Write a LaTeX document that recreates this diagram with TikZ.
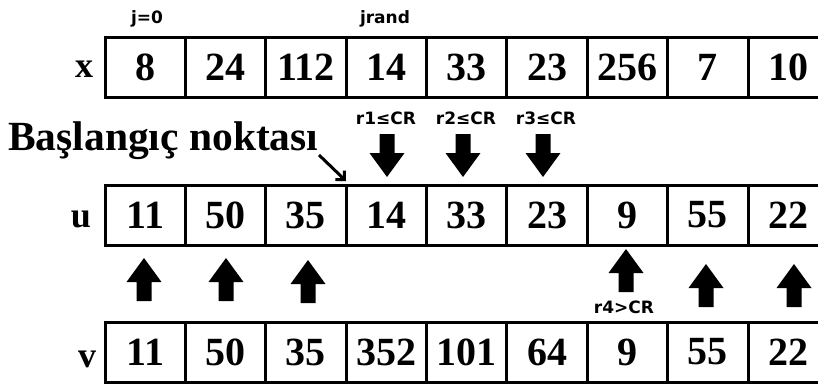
\documentclass[tikz,border=0pt]{standalone}
\usepackage{fontspec}
\setmainfont{Liberation Serif}
\newfontfamily\smallsans{DejaVu Sans}
\usetikzlibrary{arrows.meta}
\tikzset{
  cell/.style={draw=black, line width=3pt, minimum width=80.375pt, minimum height=60pt,
    inner sep=0pt, font=\fontsize{40}{44}\selectfont\bfseries},
  rowlabel/.style={inner sep=0pt, font=\fontsize{36}{40}\selectfont\bfseries},
  tag/.style={inner sep=0pt, font=\smallsans\fontsize{17}{18}\selectfont\bfseries},
  bigtext/.style={inner sep=0pt, anchor=base west, font=\fontsize{41.5}{44}\selectfont\bfseries},
  pointer/.style={line width=3pt, -{Straight Barb[angle=90:9pt,line width=3pt,line cap=butt]}},
  downblk/.pic={\fill[black] (-7.5,0) -- (7.5,0) -- (7.5,19) -- (17.5,19) -- (0,43) -- (-17.5,19) -- (-7.5,19) -- cycle;},
  upblk/.pic={\fill[black] (0,0) -- (17.5,24) -- (7.5,24) -- (7.5,43) -- (-7.5,43) -- (-7.5,24) -- (-17.5,24) -- cycle;},
}
\begin{document}
\begin{tikzpicture}[x=1pt,y=-1pt]
\useasboundingbox (0,0) rectangle (818,383);
\clip (0,0) rectangle (818,383);
\fill[white] (0,0) rectangle (818,383);
% rows
\foreach \v [count=\i] in {8,24,112,14,33,23,256,7,10}
  \node[cell] (x\i) at ({105+80.375*(\i-0.5)},67) {\v};
\foreach \v [count=\i] in {11,50,35,14,33,23,9,55,22}
  \node[cell] (u\i) at ({105+80.375*(\i-0.5)},215) {\v};
\foreach \v [count=\i] in {11,50,35,352,101,64,9,55,22}
  \node[cell] (v\i) at ({105+80.375*(\i-0.5)},352) {\v};
% row labels
\node[rowlabel, anchor=base] (xl) at (84,77) {x};
\node[rowlabel, anchor=base] (ul) at (81,227) {u};
\node[rowlabel, anchor=base] (vl) at (87,367) {v};
% tags
\node[tag] (j0) at (147,19) {j=0};
\node[tag] (jr) at (385,19) {jrand};
\node[tag] (r1) at (386,118) {r1≤CR};
\node[tag] (r2) at (466,118) {r2≤CR};
\node[tag] (r3) at (546,118) {r3≤CR};
\node[tag] (r4) at (624,307) {r4>CR};
% start text and pointer
\node[bigtext] (start) at (8,150) {Başlangıç noktası};
\coordinate (ps) at (319,155);
\coordinate (pe) at (346,181);
\draw[pointer] (ps) -- (pe);
% block arrows
\pic at (387,134) {downblk};
\pic at (463,134) {downblk};
\pic at (543,134) {downblk};
\pic at (144,258) {upblk};
\pic at (226,258) {upblk};
\pic at (308,260) {upblk};
\pic at (626,249) {upblk};
\pic at (706,264) {upblk};
\pic at (794,264) {upblk};
\end{tikzpicture}
\end{document}
